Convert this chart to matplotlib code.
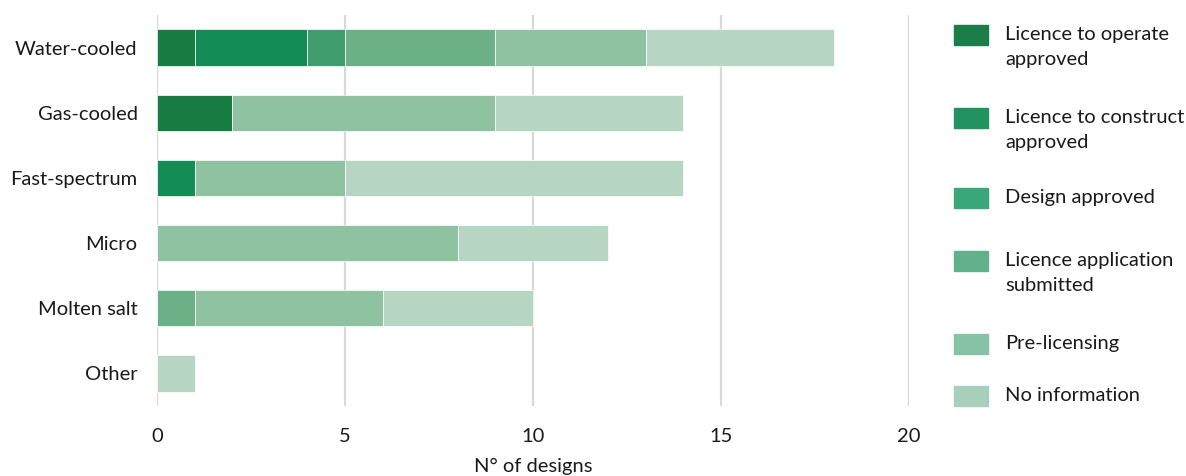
import matplotlib
matplotlib.use("Agg")
import matplotlib.pyplot as plt
from matplotlib.patches import Rectangle
import numpy as np

plt.rcParams['font.family'] = ['Lato', 'DejaVu Sans']

categories = ["Water-cooled", "Gas-cooled", "Fast-spectrum", "Micro", "Molten salt", "Other"]
stages = ["Licence to operate\napproved", "Licence to construct\napproved", "Design approved",
          "Licence application\nsubmitted", "Pre-licensing", "No information"]
operate = [1, 2, 0, 0, 0, 0]
construct = [3, 0, 1, 0, 0, 0]
design = [1, 0, 0, 0, 0, 0]
application = [4, 0, 0, 0, 1, 0]
prelicensing = [4, 7, 4, 8, 5, 0]
no_info = [5, 5, 9, 4, 4, 1]
series = [operate, construct, design, application, prelicensing, no_info]

colors = ["#177c42", "#138c55", "#409e6e", "#6cb088", "#8fc2a1", "#b6d5c3"]
legend_colors = ["#1b7d48", "#229260", "#3aa77a", "#62b08b", "#86c2a5", "#a8cfbb"]

W, H = 1186, 476
fig = plt.figure(figsize=(W / 100, H / 100), dpi=100)
ax = fig.add_axes([157 / W, 1 - 406 / H, (909 - 157) / W, (406 - 15) / H])

y = np.arange(len(categories))
left = np.zeros(len(categories))
for vals, c in zip(series, colors):
    vals = np.array(vals, dtype=float)
    ax.barh(y, vals, left=left, height=0.56, color=c, edgecolor="white", linewidth=0.5, zorder=3)
    left += vals

ax.set_xlim(0, 20)
ax.set_ylim(5.5, -0.5)
ax.set_xticks([0, 5, 10, 15, 20])
ax.set_yticks(y)
ax.set_yticklabels(categories, fontsize=14.5, color="#1a1a1a")
ax.tick_params(axis="x", labelsize=14.5, colors="#1a1a1a", length=0, pad=16)
ax.tick_params(axis="y", length=0, pad=14)
ax.xaxis.grid(True, color="#d9d9d9", linewidth=1.6, zorder=0)
for s in ax.spines.values():
    s.set_visible(False)
ax.set_xlabel("N° of designs", fontsize=14.5, color="#1a1a1a", labelpad=9)

# legend drawn by hand on the figure
patch_centers = [35, 118, 198, 261, 344, 396]
for lab, c, yc in zip(stages, legend_colors, patch_centers):
    fig.add_artist(Rectangle((954 / W, 1 - (yc + 10) / H), 34 / W, 20 / H,
                             transform=fig.transFigure, color=c))
    fig.text(1005 / W, 1 - (yc - 9) / H, lab, fontsize=14.5, color="#1a1a1a",
             va="top", ha="left", linespacing=1.55)

fig.savefig("out.png", dpi=100)
